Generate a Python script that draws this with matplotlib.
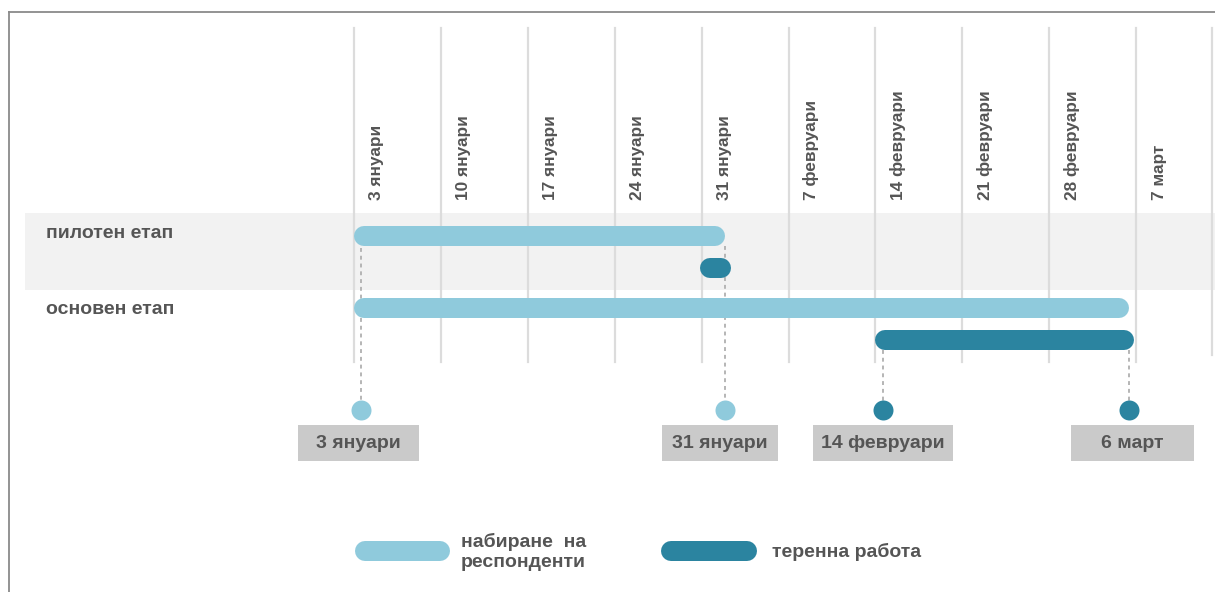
import numpy as np
import matplotlib
matplotlib.use("Agg")
from matplotlib import pyplot as plt
from matplotlib.patches import Rectangle
from matplotlib.lines import Line2D

plt.rcParams['font.family'] = ['Liberation Sans', 'DejaVu Sans']

# data (days counted from 3 January)
week_days = [0, 7, 14, 21, 28, 35, 42, 49, 56, 63]
week_labels = ['3 януари', '10 януари', '17 януари', '24 януари', '31 януари',
               '7 февруари', '14 февруари', '21 февруари', '28 февруари', '7 март']

stage_labels = ['пилотен етап', 'основен етап']
recruit_start = [0, 0]
recruit_end = [29.9, 62.4]
field_start = [27.9, 42.0]
field_end = [30.4, 62.8]

milestone_days = [0.6, 29.9, 42.6, 62.4]
milestone_labels = ['3 януари', '31 януари', '14 февруари', '6 март']
milestone_kind = ['recruit', 'recruit', 'field', 'field']

legend_labels = ['набиране  на\nреспонденти', 'теренна работа']

LIGHT = '#8fcadc'
DARK = '#2b84a0'
TXT = '#555555'
GRID = '#dcdcdc'

W, H = 1215, 592
PX_DAY = 86.9 / 7
fig = plt.figure(figsize=(W / 100, H / 100), dpi=100)
ax = fig.add_axes([0, 0, 1, 1])
ax.set_xlim(-354 / PX_DAY, (W - 354) / PX_DAY)
ax.set_ylim(H, 0)
ax.axis('off')

def fx(px):
    return px / W

def fy(py):
    return 1 - py / H

bar_lw = 20 * 72 / 100
cap = 10 / PX_DAY

# gray band behind the pilot stage
ax.add_patch(Rectangle((25 / PX_DAY - 354 / PX_DAY, 213), 100, 77,
                       facecolor='#f2f2f2', edgecolor='none', zorder=0))

# week grid + labels
for d, lab in zip(week_days, week_labels):
    ax.plot([d, d], [28, 362], color=GRID, lw=1.6, zorder=1)
    ax.text(d + 1.85, 200, lab, rotation=90, ha='center', va='bottom',
            fontsize=12.4, fontweight='bold', color=TXT)
# right edge line of the grid area
ax.plot([0.9975, 0.9975], [1 - 28 / H, 1 - 355 / H], transform=ax.transAxes,
        color=GRID, lw=1.6)

# bars
rows_recruit = [236, 308]
rows_field = [268, 340]
for i in range(2):
    ax.plot([recruit_start[i] + cap, recruit_end[i] - cap],
            [rows_recruit[i]] * 2, color=LIGHT, lw=bar_lw,
            solid_capstyle='round', zorder=3)
    ax.plot([field_start[i] + cap, field_end[i] - cap],
            [rows_field[i]] * 2, color=DARK, lw=bar_lw,
            solid_capstyle='round', zorder=3)

# row labels
for lab, py in zip(stage_labels, [233, 309]):
    fig.text(fx(46), fy(py), lab, ha='left', va='center', fontsize=14,
             fontweight='bold', color=TXT)

# milestones
box_w = [121, 116, 140, 123]
box_cx = [358, 720, 883, 1132]
line_top = [248, 246, 350, 350]
for d, lab, kind, bw, bc, lt in zip(milestone_days, milestone_labels,
                                     milestone_kind, box_w, box_cx, line_top):
    col = LIGHT if kind == 'recruit' else DARK
    ax.plot([d, d], [lt, 402], color='#b5b5b5', lw=1.4, ls=(0, (2, 2)), zorder=2)
    ax.plot([d], [410], 'o', ms=14.4, color=col, mec='none', zorder=4)
    x0 = (bc - bw / 2 - 354) / PX_DAY
    ax.add_patch(Rectangle((x0, 425), bw / PX_DAY, 36, facecolor='#cacaca',
                           edgecolor='none', zorder=3))
    ax.text(x0 + bw / PX_DAY / 2, 443, lab, ha='center', va='center',
            fontsize=14, fontweight='bold', color=TXT, zorder=5)

# legend
for (x0, x1), col, lab, tx in zip([(355, 450), (661, 757)], [LIGHT, DARK],
                                  legend_labels, [461, 772]):
    fig.add_artist(Line2D([fx(x0 + 10), fx(x1 - 10)], [fy(551)] * 2, color=col,
                          lw=bar_lw, solid_capstyle='round'))
    fig.text(fx(tx), fy(552), lab, ha='left', va='center', fontsize=14,
             fontweight='bold', color=TXT, linespacing=1.3)

# frame (top and left)
fig.add_artist(Line2D([fx(9), fx(W)], [fy(12), fy(12)], color='#8a8a8a', lw=1.3))
fig.add_artist(Line2D([fx(9), fx(9)], [fy(12), 0], color='#8a8a8a', lw=1.3))

fig.savefig('out.png', dpi=100)
